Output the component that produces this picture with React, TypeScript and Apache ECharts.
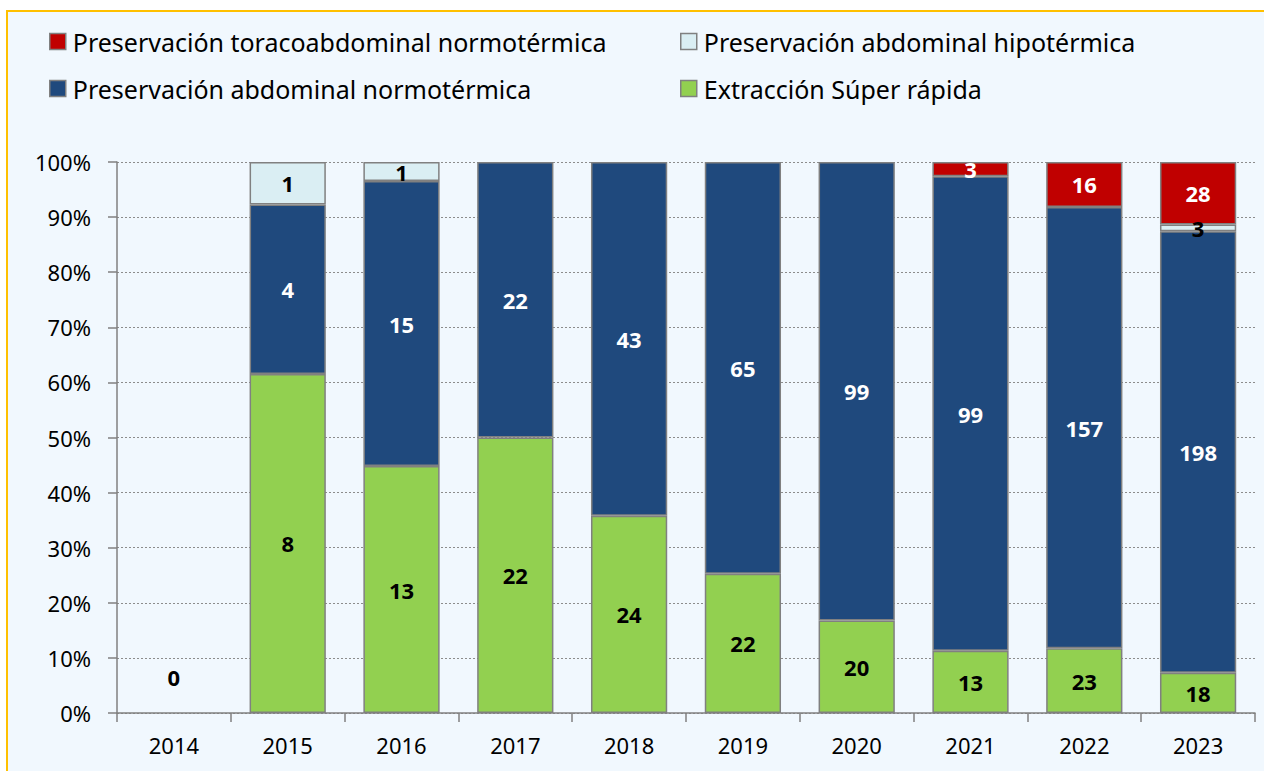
import React, { useEffect, useRef } from "react";
import * as echarts from "echarts";

const years = ["2014", "2015", "2016", "2017", "2018", "2019", "2020", "2021", "2022", "2023"];
const extraccionSuperRapida = [0, 8, 13, 22, 24, 22, 20, 13, 23, 18];
const abdominalNormotermica = [0, 4, 15, 22, 43, 65, 99, 99, 157, 198];
const abdominalHipotermica = [0, 1, 1, 0, 0, 0, 0, 0, 0, 3];
const toracoabdominalNormotermica = [0, 0, 0, 0, 0, 0, 0, 3, 16, 28];
const yTicks = [0, 10, 20, 30, 40, 50, 60, 70, 80, 90, 100];

const NAME_RED = "Preservación toracoabdominal normotérmica";
const NAME_LIGHT = "Preservación abdominal hipotérmica";
const NAME_BLUE = "Preservación abdominal normotérmica";
const NAME_GREEN = "Extracción Súper rápida";

const FONT = "'Noto Sans', 'Open Sans', sans-serif";

export default function App() {
  const ref = useRef<HTMLDivElement>(null);
  useEffect(() => {
    if (!ref.current) return;
    const chart = echarts.init(ref.current, null, { renderer: "svg" });
    const totals = years.map(
      (_, i) =>
        extraccionSuperRapida[i] + abdominalNormotermica[i] + abdominalHipotermica[i] + toracoabdominalNormotermica[i]
    );
    const toItems = (arr: number[], showZeroWhenEmpty: boolean) =>
      arr.map((v, i) => {
        const item: any = { value: totals[i] ? (v / totals[i]) * 100 : 0, raw: v, show: v !== 0 };
        if (v === 0) item.itemStyle = { borderWidth: 0 };
        if (showZeroWhenEmpty && totals[i] === 0) {
          item.show = true;
          item.label = { position: "insideBottom", distance: 25 };
        }
        return item;
      });
    const mk = (name: string, arr: number[], color: string, labelColor: string, zeroLbl = false) => ({
      name,
      type: "bar",
      stack: "total",
      barWidth: "67%",
      data: toItems(arr, zeroLbl),
      itemStyle: { color, borderColor: "#808080", borderWidth: 1.5 },
      label: {
        show: true,
        position: "inside",
        color: labelColor,
        fontFamily: FONT,
        fontWeight: "bold",
        fontSize: 22,
        formatter: (p: any) => (p.data.show ? String(p.data.raw) : ""),
      },
    });
    const legendCommon = {
      orient: "vertical",
      top: 24,
      itemWidth: 16,
      itemHeight: 16,
      itemGap: 22,
      icon: "rect",
      textStyle: { fontFamily: FONT, fontSize: 25, color: "#000", padding: [0, 0, 0, 2] },
      itemStyle: { borderColor: "#808080", borderWidth: 1.5 },
    };
    chart.setOption({
      animation: false,
      graphic: [
        {
          type: "rect",
          z: -10,
          silent: true,
          shape: { x: 7, y: 11, width: 1300, height: 800 },
          style: { fill: "#F1F8FE", stroke: "#FFC000", lineWidth: 2 },
        },
      ],
      legend: [
        { ...legendCommon, left: 44, data: [NAME_RED, NAME_BLUE] },
        { ...legendCommon, left: 675, data: [NAME_LIGHT, NAME_GREEN] },
      ],
      grid: { left: 117, right: 9, top: 162, bottom: 58, containLabel: false },
      xAxis: {
        type: "category",
        data: years,
        axisLine: { lineStyle: { color: "#808080", width: 1.5 } },
        axisTick: { show: true, length: 9, lineStyle: { color: "#808080", width: 1.5 } },
        axisLabel: { color: "#000", fontFamily: FONT, fontSize: 22, margin: 21 },
      },
      yAxis: {
        type: "value",
        min: yTicks[0],
        max: yTicks[yTicks.length - 1],
        interval: yTicks[1] - yTicks[0],
        axisLine: { show: true, lineStyle: { color: "#808080", width: 1.5 } },
        axisTick: { show: true, length: 9, lineStyle: { color: "#808080", width: 1.5 } },
        axisLabel: { color: "#000", fontFamily: FONT, fontSize: 22, margin: 26, formatter: "{value}%" },
        splitLine: { show: true, lineStyle: { color: "#8c8c8c", type: [2, 2], width: 1 } },
      },
      series: [
        mk(NAME_GREEN, extraccionSuperRapida, "#92D050", "#000", true),
        mk(NAME_BLUE, abdominalNormotermica, "#1F497D", "#fff"),
        mk(NAME_LIGHT, abdominalHipotermica, "#DAEEF3", "#000"),
        mk(NAME_RED, toracoabdominalNormotermica, "#C00000", "#fff"),
      ],
    });
    return () => chart.dispose();
  }, []);
  return (
    <div
      ref={ref}
      style={{ position: "fixed", left: 0, top: 0, width: 1264, height: 771, background: "#fff" }}
    />
  );
}
